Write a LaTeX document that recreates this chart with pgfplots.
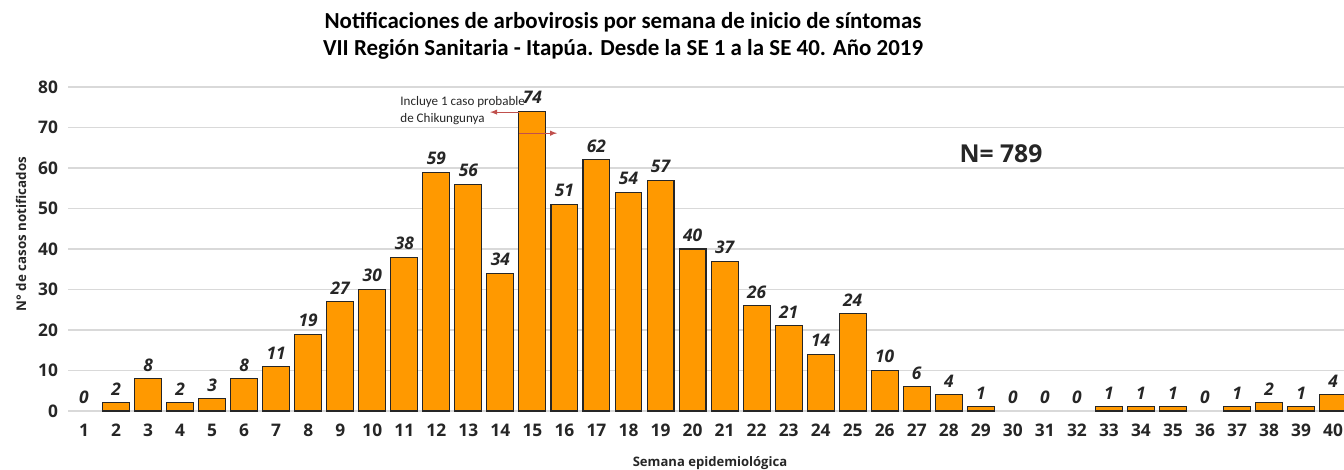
\documentclass[border=0pt]{standalone}
\usepackage{fontspec}
\setmainfont{Open Sans}
\newfontfamily\carlito{Carlito}
\usepackage{pgfplots}
\pgfplotsset{compat=1.18}
\definecolor{barorange}{HTML}{FF9900}
\definecolor{gridgray}{HTML}{D9D9D9}
\definecolor{arrowred}{HTML}{C0504D}
\definecolor{txtgray}{HTML}{262626}
\newcommand\px[2]{({(#1)*0.75pt},{-(#2)*0.75pt})}
\pgfplotstableread{
x y
1 0
2 2
3 8
4 2
5 3
6 8
7 11
8 19
9 27
10 30
11 38
12 59
13 56
14 34
15 74
16 51
17 62
18 54
19 57
20 40
21 37
22 26
23 21
24 14
25 24
26 10
27 6
28 4
29 1
30 0
31 0
32 0
33 1
34 1
35 1
36 0
37 1
38 2
39 1
40 4
}\datatable
\begin{document}
\begin{tikzpicture}
\begin{axis}[
  name=ax, at={(51pt,-308.25pt)}, anchor=south west,
  scale only axis, width=957pt, height=243pt,
  xmin=0.5, xmax=40.34, ymin=0, ymax=80,
  ytick={0,10,...,80}, xtick={1,...,40},
  ymajorgrids, grid style={gridgray, line width=0.8pt},
  axis line style={draw=none},
  major tick length=0pt,
  clip=false,
  /pgf/number format/assume math mode=true,
  tick label style={font=\bfseries\fontsize{13}{13}\selectfont, text=txtgray},
  xticklabel style={yshift=-6pt},
  yticklabel style={xshift=-4pt},
  ybar, bar width=0.84, bar shift=0pt,
]
\addplot[fill=barorange, draw=txtgray, line width=0.8pt,
  y filter/.expression={y==0 ? nan : y}, unbounded coords=discard] table[x=x,y=y] {\datatable};
\addplot[draw=none, fill=none, nodes near coords,
  every node near coord/.append style={font=\bfseries\itshape\fontsize{13}{13}\selectfont, text=txtgray, yshift=2pt}] table[x=x,y=y] {\datatable};
\draw[arrowred, line width=0.8pt, -latex] (axis cs:14.58,73.8) -- (axis cs:13.68,73.8);
\draw[arrowred, line width=0.8pt, -latex] (axis cs:14.58,68.6) -- (axis cs:15.77,68.6);
\node[anchor=base west, inner sep=0pt, font=\carlito\fontsize{9.8}{9.8}\selectfont, text=txtgray] at (axis cs:10.87,75.4) {Incluye 1 caso probable};
\node[anchor=base west, inner sep=0pt, font=\carlito\fontsize{9.8}{9.8}\selectfont, text=txtgray] at (axis cs:10.87,71.2) {de Chikungunya};
\end{axis}
\node[font=\carlito\bfseries\fontsize{17.2}{17.2}\selectfont, text=black] at \px{623}{22} {Notificaciones de arbovirosis por semana de inicio de síntomas};
\node[font=\carlito\bfseries\fontsize{17.2}{17.2}\selectfont, text=black] at \px{623}{49} {VII Región Sanitaria - Itapúa. Desde la SE 1 a la SE 40. Año 2019};
\node[font=\bfseries\fontsize{18.5}{18.5}\selectfont, text=txtgray] at \px{1001}{154} {N= 789};
\node[font=\bfseries\fontsize{10}{10}\selectfont, text=txtgray, rotate=90] at \px{21}{234} {N° de casos notificados};
\node[font=\bfseries\fontsize{9.8}{9.8}\selectfont, text=txtgray] at \px{710}{463} {Semana epidemiológica};
\pgfresetboundingbox
\path \px{0}{0} rectangle \px{1344}{470};
\end{tikzpicture}
\end{document}
